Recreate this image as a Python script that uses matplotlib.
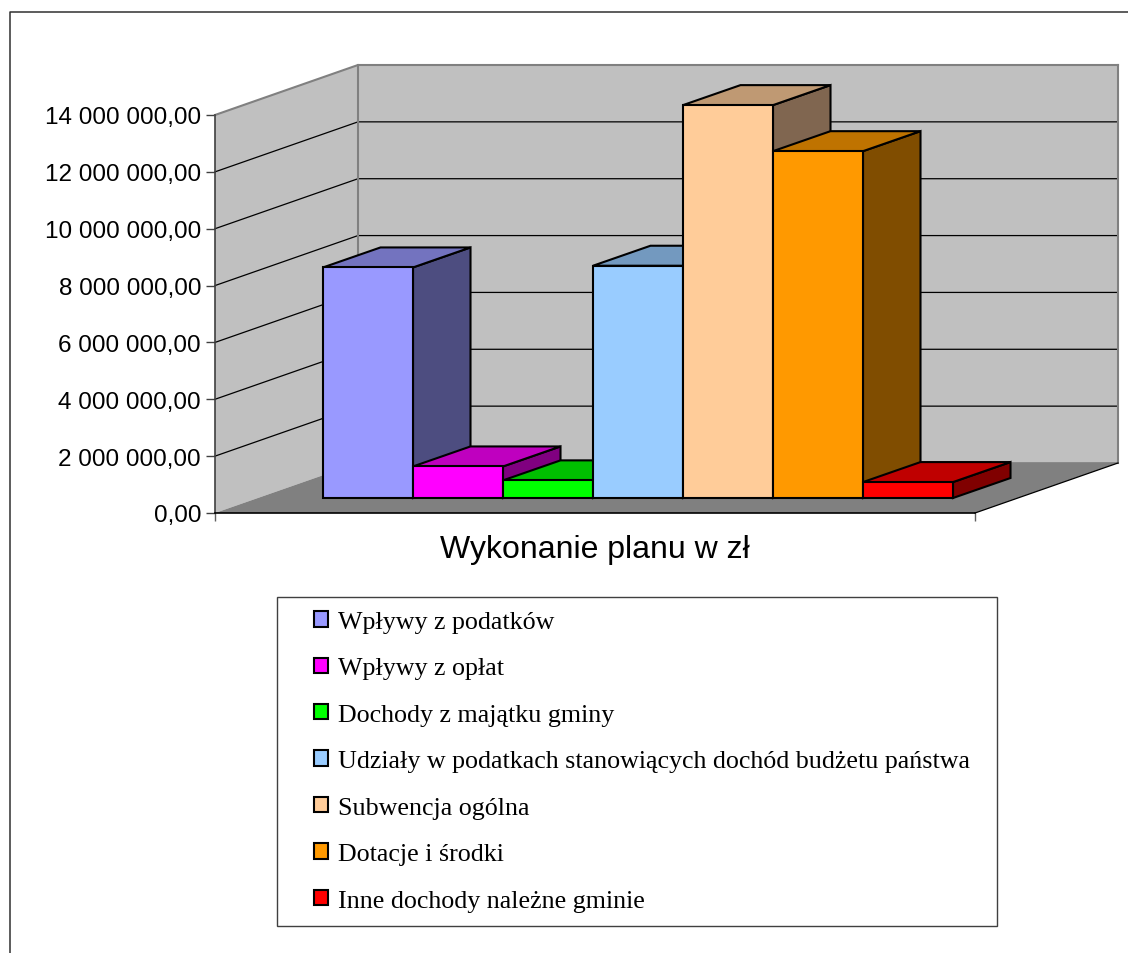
import matplotlib
matplotlib.use("Agg")
import matplotlib.pyplot as plt
from matplotlib.lines import Line2D
from matplotlib.patches import Patch, Rectangle

# wykonanie planu dochodow w zl
categories = [
    "Wpływy z podatków",
    "Wpływy z opłat",
    "Dochody z majątku gminy",
    "Udziały w podatkach stanowiących dochód budżetu państwa",
    "Subwencja ogólna",
    "Dotacje i środki",
    "Inne dochody należne gminie",
]
values = [8110000, 1110000, 620000, 8170000, 13820000, 12200000, 560000]
colors = ["#9999FF", "#FF00FF", "#00FF00", "#99CCFF", "#FFCC99", "#FF9900", "#FF0000"]
side_colors = ["#4D4D80", "#800080", "#008000", "#4D6680", "#806650", "#804D00", "#800000"]
top_colors = ["#7373BF", "#BF00BF", "#00BF00", "#7399BF", "#BF9973", "#BF7300", "#BF0000"]
y_ticks = [0, 2000000, 4000000, 6000000, 8000000, 10000000, 12000000, 14000000]
title = "Wykonanie planu w zł"

W, H = 1128, 954
AX_LEFT, AX_RIGHT, AX_TOP, AX_BOTTOM = 215, 975, 116, 514
BAR_PX = 90.0
Y_MAX = 14000000
PX_Y = (AX_BOTTOM - AX_TOP) / Y_MAX

# oblique depth, converted from pixels to data units
X_MIN = -(323 - AX_LEFT) / BAR_PX
X_MAX = (AX_RIGHT - 323) / BAR_PX
WALL_DX = 143 / BAR_PX
WALL_DY = 50 / PX_Y
BAR_DX = 57.5 / BAR_PX
BAR_DY = 20 / PX_Y
BAR_BASE = 15 / PX_Y

fig = plt.figure(figsize=(W / 100, H / 100), dpi=100, facecolor="white")
ax = fig.add_axes([AX_LEFT / W, 1 - AX_BOTTOM / H, (AX_RIGHT - AX_LEFT) / W, (AX_BOTTOM - AX_TOP) / H])
ax.set_xlim(X_MIN, X_MAX)
ax.set_ylim(0, Y_MAX)
ax.patch.set_visible(False)

font = "Liberation Sans"

# walls and floor
ax.fill([X_MIN, X_MIN + WALL_DX, X_MIN + WALL_DX, X_MIN],
        [0, WALL_DY, Y_MAX + WALL_DY, Y_MAX],
        facecolor="#C0C0C0", edgecolor="none", clip_on=False, zorder=1)
ax.fill([X_MIN + WALL_DX, X_MAX + WALL_DX, X_MAX + WALL_DX, X_MIN + WALL_DX],
        [WALL_DY, WALL_DY, Y_MAX + WALL_DY, Y_MAX + WALL_DY],
        facecolor="#C0C0C0", edgecolor="none", clip_on=False, zorder=1)
ax.fill([X_MIN, X_MAX, X_MAX + WALL_DX, X_MIN + WALL_DX],
        [0, 0, WALL_DY, WALL_DY],
        facecolor="#808080", edgecolor="none", clip_on=False, zorder=1.5)

# grid lines run along the side wall and on across the back wall
for t in y_ticks[1:]:
    grid_color = "#808080" if t == Y_MAX else "black"
    grid_lw = 1.5 if t == Y_MAX else 0.9
    ax.plot([X_MIN, X_MIN + WALL_DX, X_MAX + WALL_DX],
            [t, t + WALL_DY, t + WALL_DY],
            color=grid_color, lw=grid_lw, clip_on=False, zorder=2)
ax.plot([X_MIN + WALL_DX, X_MIN + WALL_DX], [WALL_DY, Y_MAX + WALL_DY],
        color="#808080", lw=1.5, clip_on=False, zorder=2)
ax.plot([X_MAX + WALL_DX, X_MAX + WALL_DX], [WALL_DY, Y_MAX + WALL_DY],
        color="#808080", lw=1.5, clip_on=False, zorder=2)
ax.plot([X_MIN + WALL_DX, X_MAX + WALL_DX], [WALL_DY, WALL_DY],
        color="#808080", lw=1.2, clip_on=False, zorder=2)
ax.plot([X_MAX, X_MAX + WALL_DX], [0, WALL_DY], color="black", lw=0.9, clip_on=False, zorder=2)

# bars, painted left to right so later ones cover earlier side faces
for i, v in enumerate(values):
    z = 3 + i
    top = BAR_BASE + v
    ax.fill([i + 1, i + 1 + BAR_DX, i + 1 + BAR_DX, i + 1],
            [BAR_BASE, BAR_BASE + BAR_DY, top + BAR_DY, top],
            facecolor=side_colors[i], edgecolor="black", lw=1.5, clip_on=False, zorder=z)
    ax.fill([i, i + BAR_DX, i + 1 + BAR_DX, i + 1],
            [top, top + BAR_DY, top + BAR_DY, top],
            facecolor=top_colors[i], edgecolor="black", lw=1.5, clip_on=False, zorder=z)
    ax.bar(i, v, width=1, align="edge", bottom=BAR_BASE, color=colors[i],
           edgecolor="black", linewidth=1.5, clip_on=False, zorder=z)

# axes
for name in ["top", "right"]:
    ax.spines[name].set_visible(False)
ax.spines["left"].set_color("#404040")
ax.spines["left"].set_linewidth(1.2)
ax.spines["bottom"].set_color("black")
ax.spines["bottom"].set_linewidth(1.2)
ax.spines["left"].set_zorder(12)
ax.spines["bottom"].set_zorder(12)
ax.set_yticks(y_ticks)
ax.set_yticklabels([f"{t:,.2f}".replace(",", " ").replace(".", ",") for t in y_ticks],
                   fontname=font, fontsize=17.5)
ax.set_xticks([X_MIN, X_MAX])
ax.set_xticklabels([])
ax.tick_params(axis="y", length=6.5, width=1, color="#404040", pad=3.5)
ax.tick_params(axis="x", length=6, width=1, color="#606060")
ax.set_xlabel(title, fontname=font, fontsize=23, labelpad=5.5)

# legend box
fig.add_artist(Rectangle((277 / W, 1 - 926.5 / H), 720 / W, 329 / H, transform=fig.transFigure,
                         facecolor="white", edgecolor="#404040", lw=1))
handles = [Patch(facecolor=c, edgecolor="black", lw=1.5) for c in colors]
leg = fig.legend(handles, categories, loc="upper left", bbox_to_anchor=(314 / W, 1 - 612 / H),
                 frameon=False, borderaxespad=0, borderpad=0,
                 prop={"family": "Liberation Serif", "size": 18.7},
                 labelspacing=0.942, handlelength=0.54, handleheight=0.54, handletextpad=0.385)
leg.set_zorder(5)

# outer chart frame, open at the right and bottom
fig.add_artist(Line2D([9.5 / W, 9.5 / W, 1], [0, 1 - 12.5 / H, 1 - 12.5 / H],
                      transform=fig.transFigure, color="#303030", lw=1.1))

fig.savefig("out.png", dpi=100, facecolor="white")
